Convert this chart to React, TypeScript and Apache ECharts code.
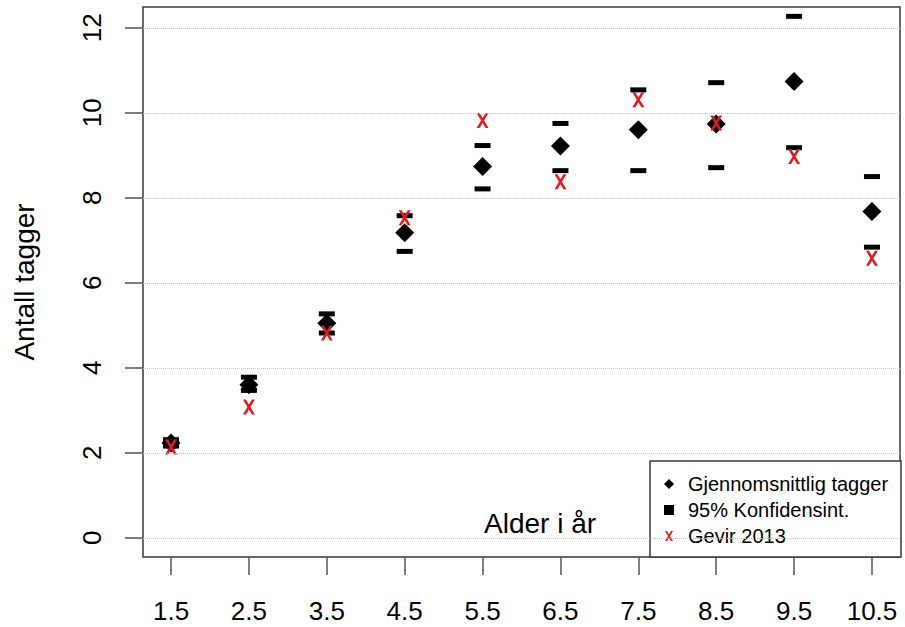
import React, { useEffect, useRef } from "react";
import * as echarts from "echarts";

const ages = [1.5, 2.5, 3.5, 4.5, 5.5, 6.5, 7.5, 8.5, 9.5, 10.5];
const meanTags = [2.23, 3.6, 5.05, 7.18, 8.74, 9.22, 9.6, 9.74, 10.74, 7.68];
const ciUpper = [2.31, 3.78, 5.27, 7.58, 9.23, 9.75, 10.54, 10.71, 12.27, 8.5];
const ciLower = [2.16, 3.47, 4.82, 6.74, 8.21, 8.64, 8.64, 8.71, 9.18, 6.84];
const gevir2013 = [2.14, 3.08, 4.82, 7.53, 9.82, 8.38, 10.31, 9.76, 8.97, 6.58];
const yTicks = [0, 2, 4, 6, 8, 10, 12];

const FONT = "'Liberation Sans', Arial, sans-serif";
const RED = "#e31b1f";
const X_PATH = "path://M0,0L3,0L12,15L9,15ZM9,0L12,0L3,15L0,15Z";

export default function App() {
  const ref = useRef<HTMLDivElement>(null);
  useEffect(() => {
    document.body.style.margin = "0";
    if (!ref.current) return;
    const chart = echarts.init(ref.current, undefined, { renderer: "svg" });
    const pairs = (ys: number[]) => ages.map((a, i) => [a, ys[i]]);
    chart.setOption({
      animation: false,
      backgroundColor: "#ffffff",
      textStyle: { fontFamily: FONT },
      grid: {
        left: 143,
        top: 7,
        right: 5,
        bottom: 70,
        show: true,
        borderColor: "#3a3a3a",
        borderWidth: 1.5,
        backgroundColor: "transparent",
      },
      xAxis: {
        type: "value",
        min: 1.14,
        max: 10.86,
        axisLine: { show: false, onZero: false },
        splitLine: { show: false },
        axisTick: {
          show: true,
          inside: false,
          customValues: ages,
          length: 18,
          lineStyle: { color: "#555", width: 1.5 },
        },
        axisLabel: {
          customValues: ages,
          fontSize: 26,
          color: "#000",
          margin: 41,
          fontFamily: FONT,
        },
      },
      yAxis: {
        type: "value",
        min: -0.45,
        max: 12.49,
        axisLine: { show: false, onZero: false },
        splitLine: { show: false },
        axisTick: {
          show: true,
          inside: false,
          customValues: yTicks,
          length: 18,
          lineStyle: { color: "#555", width: 1.5 },
        },
        axisLabel: {
          customValues: yTicks,
          fontSize: 26,
          color: "#000",
          rotate: 90,
          margin: 38,
          fontFamily: FONT,
        },
      },
      legend: {
        orient: "vertical",
        left: 664,
        top: 474,
        itemWidth: 10,
        itemHeight: 10,
        itemGap: 6,
        padding: 0,
        textStyle: {
          fontSize: 20,
          lineHeight: 20,
          color: "#000",
          fontFamily: FONT,
          padding: [0, 0, 0, 9],
        },
        data: [
          { name: "Gjennomsnittlig tagger", icon: "diamond" },
          { name: "95% Konfidensint.", icon: "rect" },
          { name: "Gevir 2013", icon: X_PATH, itemStyle: { color: RED } },
        ],
      },
      graphic: [
        {
          type: "rect",
          z: 3,
          shape: { x: 650, y: 461, width: 251, height: 96 },
          style: { fill: "#fff", stroke: "#3a3a3a", lineWidth: 1.5 },
        },
        {
          type: "text",
          z: 5,
          x: 484,
          y: 523,
          style: {
            text: "Alder i år",
            fontSize: 28,
            fontFamily: FONT,
            fill: "#000",
            align: "left",
            verticalAlign: "middle",
          },
        },
        {
          type: "text",
          z: 5,
          x: 24,
          y: 282,
          rotation: Math.PI / 2,
          style: {
            text: "Antall tagger",
            fontSize: 28,
            fontFamily: FONT,
            fill: "#000",
            align: "center",
            verticalAlign: "middle",
          },
        },
      ],
      series: [
        {
          name: "95% Konfidensint.",
          type: "scatter",
          symbol: "rect",
          symbolSize: [16, 5],
          itemStyle: { color: "#000", opacity: 1 },
          data: pairs(ciUpper),
          z: 2,
          markLine: {
            silent: true,
            symbol: "none",
            label: { show: false },
            lineStyle: { type: "dotted", color: "#c4c4c4", width: 1 },
            data: yTicks.map((v) => ({ yAxis: v })),
          },
        },
        {
          name: "95% Konfidensint.",
          type: "scatter",
          symbol: "rect",
          symbolSize: [16, 5],
          itemStyle: { color: "#000", opacity: 1 },
          data: pairs(ciLower),
          z: 2,
        },
        {
          name: "Gjennomsnittlig tagger",
          type: "scatter",
          symbol: "diamond",
          symbolSize: [19, 19],
          itemStyle: { color: "#000", opacity: 1 },
          data: pairs(meanTags),
          z: 2,
        },
        {
          name: "Gevir 2013",
          type: "scatter",
          symbol: X_PATH,
          symbolSize: [12, 15],
          itemStyle: { color: RED, opacity: 1 },
          data: pairs(gevir2013),
          z: 2,
        },
      ],
    });
    return () => chart.dispose();
  }, []);
  return <div ref={ref} style={{ width: 905, height: 627 }} />;
}
